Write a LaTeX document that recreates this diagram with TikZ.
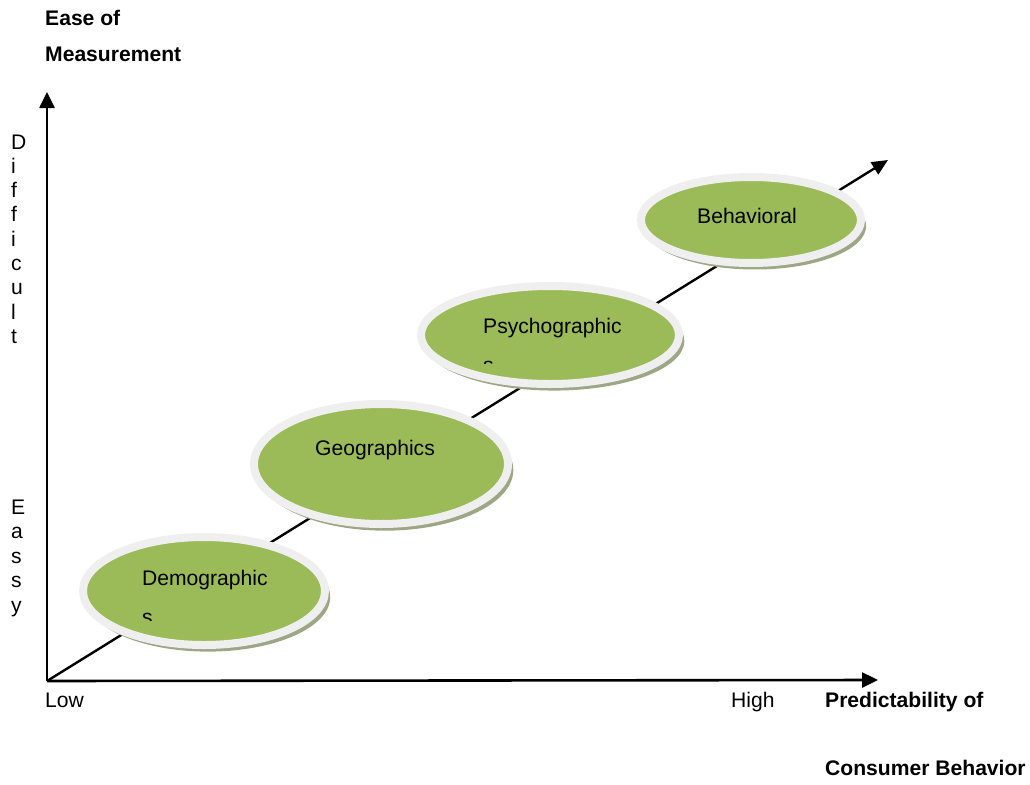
\documentclass[tikz,border=0pt]{standalone}
\usepackage{fontspec}
\setmainfont{Liberation Sans}
\usetikzlibrary{shapes.geometric,shadows,arrows.meta}
\definecolor{segfill}{HTML}{9BBB59}
\definecolor{segring}{HTML}{EFEFEF}
\definecolor{segshadow}{HTML}{9EA686}
\tikzset{
  axis/.style={line width=2.6pt,-{Triangle[length=16pt,width=15pt]}},
  segment/.style={ellipse,fill=segfill,draw=segring,line width=8pt,inner sep=0pt,
    general shadow={shadow xshift=4pt,shadow yshift=-6pt,shadow scale=1.01,fill=segshadow}},
  txt/.style={font=\fontsize{21.1}{24}\selectfont,inner sep=0pt,anchor=base west},
  btxt/.style={txt,font=\fontsize{21.1}{24}\selectfont\bfseries},
}
\begin{document}
\begin{tikzpicture}[x=1pt,y=-1pt]
\useasboundingbox (0,0) rectangle (1030,784);
\coordinate (O) at (47,681);
\coordinate (ytop) at (47,92);
\coordinate (xend) at (878,680);
\coordinate (dend) at (888,160);
% axes
\draw[axis] (O) -- (ytop);
\draw[axis] (O) -- (xend);
\draw[line width=2.4pt,-{Triangle[length=16pt,width=14pt]}] (O) -- (dend);
% segments
\node[segment,minimum width=242pt,minimum height=108pt] (demo) at (204,591) {};
\node[segment,minimum width=254pt,minimum height=120pt] (geo) at (381,464) {};
\node[segment,minimum width=258pt,minimum height=98pt] (psy) at (550,335) {};
\node[segment,minimum width=220pt,minimum height=86pt] (beh) at (751,220) {};
% segment texts
\node[txt] (demot) at (142,585) {Demographic};
\begin{scope}
\clip (130,600) rectangle (200,620);
\node[txt] (demos) at (142,624) {s};
\end{scope}
\node[txt] (geot) at (315,455) {Geographics};
\node[txt] (psyt) at (483,333) {Psychographic};
\begin{scope}
\clip (470,345) rectangle (540,363);
\node[txt] (psys) at (483,372) {s};
\end{scope}
\node[txt] (beht) at (697,223) {Behavioral};
% axis titles
\node[btxt] (t1) at (45,26) {Ease of};
\node[btxt] (t2) at (45,62) {Measurement};
\node[btxt] (x1) at (825,707) {Predictability of};
\node[btxt] (x2) at (825,775) {Consumer Behavior};
\node[txt] (low) at (45,707) {Low};
\node[txt] (high) at (731,707) {High};
% vertical words
\foreach \ch [count=\i from 0] in {D,i,f,f,i,c,u,l,t}
  \node[txt] (d\i) at (11,{149+24.3*\i}) {\ch};
\foreach \ch [count=\i from 0] in {E,a,s,s,y}
  \node[txt] (e\i) at (11,{514+24.5*\i}) {\ch};
\end{tikzpicture}
\end{document}
